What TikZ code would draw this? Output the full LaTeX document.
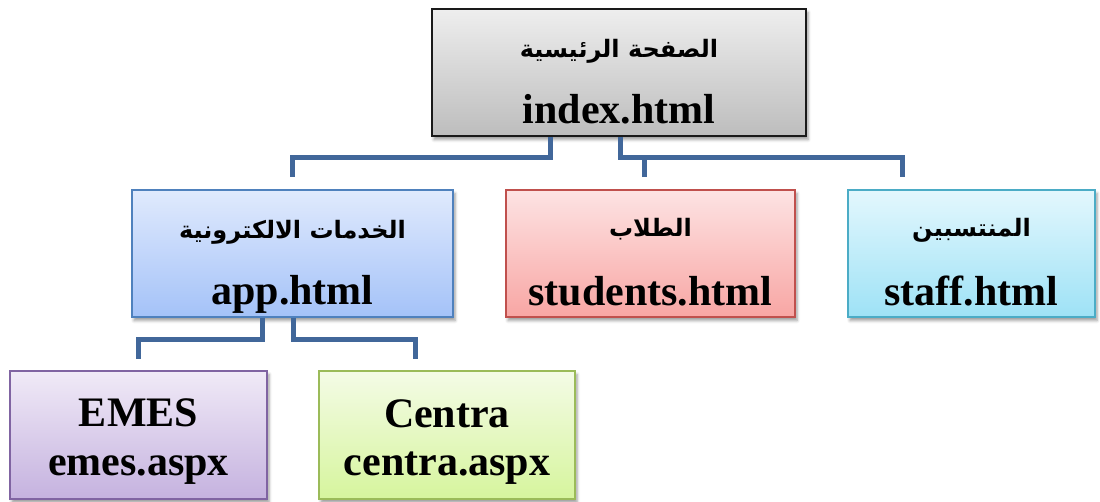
\documentclass[tikz,border=0pt]{standalone}
\usepackage{fontspec}
\setmainfont{Liberation Serif}
\newfontfamily\arabicfont[Script=Arabic]{DejaVu Sans}
\TeXXeTstate=1
\usetikzlibrary{shadows.blur}
\definecolor{connc}{HTML}{41679A}
\definecolor{rootT}{HTML}{EEEEEE}\definecolor{rootB}{HTML}{BDBDBD}\definecolor{rootD}{HTML}{1A1A1A}
\definecolor{appT}{HTML}{E0EAFD}\definecolor{appB}{HTML}{A4C2F8}\definecolor{appD}{HTML}{4F81BD}
\definecolor{stuT}{HTML}{FDE3E3}\definecolor{stuB}{HTML}{F8A6A4}\definecolor{stuD}{HTML}{C0504D}
\definecolor{stfT}{HTML}{E3F7FD}\definecolor{stfB}{HTML}{9EE2F6}\definecolor{stfD}{HTML}{4BACC6}
\definecolor{emeT}{HTML}{F0EAF7}\definecolor{emeB}{HTML}{C5B2DF}\definecolor{emeD}{HTML}{8064A2}
\definecolor{cenT}{HTML}{F4FBE6}\definecolor{cenB}{HTML}{D6F59D}\definecolor{cenD}{HTML}{9BBB59}
\tikzset{
  boxnode/.style={draw, line width=1.6pt, inner sep=0pt,
    blur shadow={shadow xshift=2pt, shadow yshift=-3.5pt, shadow blur radius=3pt, shadow opacity=40}},
  conn/.style={draw=connc, line width=5pt, line join=miter},
  lat/.style={font=\fontsize{42}{42}\selectfont\bfseries, inner sep=0pt, anchor=base},
  ar/.style={font=\fontsize{24}{24}\selectfont\arabicfont\bfseries, inner sep=0pt, anchor=base},
}
\begin{document}
\begin{tikzpicture}[x=1pt,y=-1pt]
\useasboundingbox (0,0) rectangle (1100,501);
% boxes
\node[boxnode, draw=rootD, top color=rootT, bottom color=rootB, minimum width=374pt, minimum height=127pt] (root) at (619,72.5) {};
\node[boxnode, draw=appD, top color=appT, bottom color=appB, minimum width=321pt, minimum height=127pt] (app) at (292.5,253.5) {};
\node[boxnode, draw=stuD, top color=stuT, bottom color=stuB, minimum width=289pt, minimum height=127pt] (stud) at (650.5,253.5) {};
\node[boxnode, draw=stfD, top color=stfT, bottom color=stfB, minimum width=247pt, minimum height=127pt] (staff) at (971.5,253.5) {};
\node[boxnode, draw=emeD, top color=emeT, bottom color=emeB, minimum width=257pt, minimum height=128pt] (emes) at (138.5,435) {};
\node[boxnode, draw=cenD, top color=cenT, bottom color=cenB, minimum width=256pt, minimum height=128pt] (centra) at (447,435) {};
% texts
\node[ar] (rootA) at (619,57) {\beginR الصفحة الرئيسية\endR};
\node[lat] (rootL) at (619,123) {index.html};
\node[ar] (appA) at (292.5,238) {\beginR الخدمات الالكترونية\endR};
\node[lat] (appL) at (292.5,304) {app.html};
\node[ar] (studA) at (650.5,236) {\beginR الطلاب\endR};
\node[lat] (studL) at (650.5,305) {students.html};
\node[ar] (staffA) at (971.5,236) {\beginR المنتسبين\endR};
\node[lat] (staffL) at (971.5,305) {staff.html};
\node[lat] (emesA) at (138.5,426) {EMES};
\node[lat] (emesL) at (138.5,475) {emes.aspx};
\node[lat] (centraA) at (447,427) {Centra};
\node[lat] (centraL) at (447,475) {centra.aspx};
% connectors
\draw[conn] ([xshift=-69pt]root.south) -- ++(0,21) -| ([yshift=12pt]app.north);
\draw[conn] ([xshift=1pt]root.south) -- ++(0,21) -| ([xshift=-69.5pt,yshift=12pt]staff.north);
\draw[conn] ([xshift=-6.5pt,yshift=12pt]stud.north) -- ([xshift=-6.5pt,yshift=33pt]stud.north);
\draw[conn] ([xshift=-30.5pt]app.south) -- ++(0,22) -| ([yshift=11pt]emes.north);
\draw[conn] ([xshift=0.5pt]app.south) -- ++(0,22) -| ([xshift=-32pt,yshift=11pt]centra.north);
\end{tikzpicture}
\end{document}
